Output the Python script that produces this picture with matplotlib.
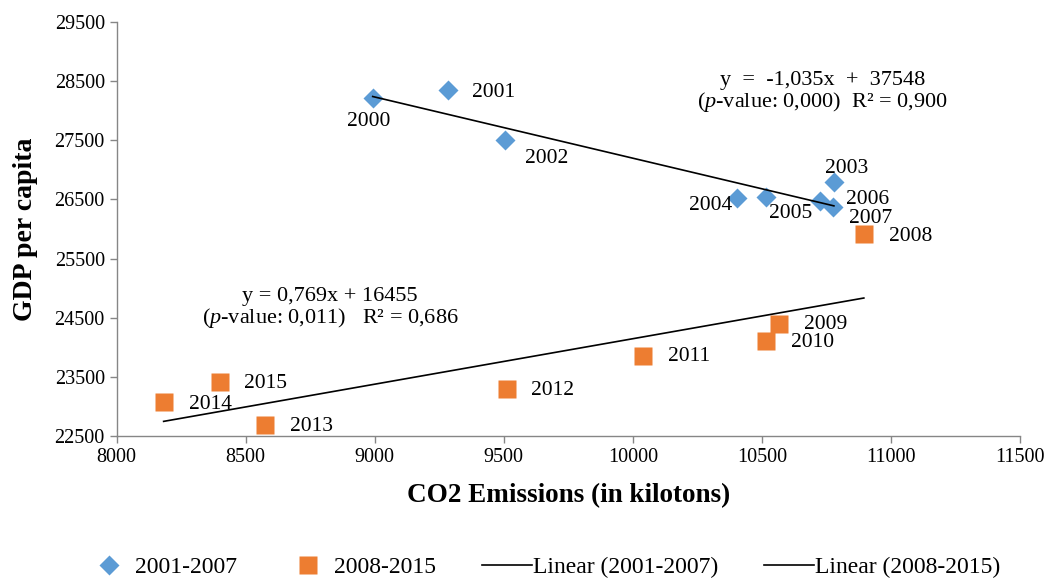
import matplotlib
matplotlib.use("Agg")
import matplotlib.pyplot as plt
from matplotlib.lines import Line2D

plt.rcParams['font.family'] = ['Liberation Serif', 'DejaVu Serif']
plt.rcParams['mathtext.fontset'] = 'custom'
plt.rcParams['mathtext.rm'] = 'Liberation Serif'
plt.rcParams['mathtext.it'] = 'Liberation Serif:italic'

# Period 1 (blue diamonds)
years_a = ['2000', '2001', '2002', '2003', '2004', '2005', '2006', '2007']
co2_a = [8992, 9283, 9504, 10779, 10403, 10515, 10725, 10775]
gdp_a = [28214, 28350, 27510, 26800, 26530, 26550, 26480, 26380]

# Period 2 (orange squares)
years_b = ['2008', '2009', '2010', '2011', '2012', '2013', '2014', '2015']
co2_b = [10895, 10566, 10515, 10039, 9512, 8574, 8182, 8399]
gdp_b = [25920, 24400, 24100, 23860, 23290, 22680, 23080, 23410]

# trend equations as printed on the chart
slope_a, icpt_a = -1.035, 37548
slope_b, icpt_b = 0.769, 16455

# label offsets in pixels (dx, dy)
off_a = [(-4, -23), (46, -2), (42, -19), (13, 13), (-26, -8), (25, -17), (48, 1), (38, -12)]
off_b = [(47, -3), (47, -1), (47, -1), (46, -1), (46, -1), (47, -1), (47, -3), (46, -1)]

blue = '#5B9BD5'
orange = '#ED7D31'

fig = plt.figure(figsize=(10.51, 5.81), dpi=100)
ax = fig.add_axes([0.111, 0.2496, 0.8595, 0.7124])

ax.plot(co2_a, gdp_a, 'D', color=blue, ms=10.5, mec='none', zorder=3)
ax.plot(co2_b, gdp_b, 's', color=orange, ms=13.5, mec='none', zorder=3)

xa = [min(co2_a), max(co2_a)]
ax.plot(xa, [slope_a * x + icpt_a for x in xa], color='black', lw=1.2, zorder=4)
xb = [min(co2_b), max(co2_b)]
ax.plot(xb, [slope_b * x + icpt_b for x in xb], color='black', lw=1.2, zorder=4)

for yr, x, y, o in zip(years_a, co2_a, gdp_a, off_a):
    ax.annotate(yr, (x, y), xytext=o, textcoords='offset pixels',
                ha='center', va='center', fontsize=15.5)
for yr, x, y, o in zip(years_b, co2_b, gdp_b, off_b):
    ax.annotate(yr, (x, y), xytext=o, textcoords='offset pixels',
                ha='center', va='center', fontsize=15.5)

ax.text(0.781, 0.831, "y  =  -1,035x  +  37548\n($\\mathit{p}$-value: 0,000)  R² = 0,900",
        transform=ax.transAxes, ha='center', va='center', fontsize=16,
        linespacing=1.0)
ax.text(0.236, 0.309, "y = 0,769x + 16455\n($\\mathit{p}$-value: 0,011)   R² = 0,686",
        transform=ax.transAxes, ha='center', va='center', fontsize=16,
        linespacing=1.0)

ax.set_xlim(8000, 11500)
ax.set_ylim(22500, 29500)
ax.set_xticks(range(8000, 11501, 500))
ax.set_yticks(range(22500, 29501, 1000))
ax.tick_params(labelsize=14.5, color='#868686', length=5, width=1, direction='out')
for s in ['top', 'right']:
    ax.spines[s].set_visible(False)
for s in ['left', 'bottom']:
    ax.spines[s].set_color('#868686')
    ax.spines[s].set_linewidth(1)

ax.set_xlabel('CO2 Emissions (in kilotons)', fontsize=19.5, fontweight='bold', labelpad=12)
ax.set_ylabel('GDP per capita', fontsize=20, fontweight='bold', labelpad=12)

handles = [
    Line2D([], [], ls='none', marker='D', color=blue, ms=10, mec='none'),
    Line2D([], [], ls='none', marker='s', color=orange, ms=13, mec='none'),
    Line2D([], [], color='black', lw=1.2),
    Line2D([], [], color='black', lw=1.2),
]
labels = ['2001-2007', '2008-2015', 'Linear (2001-2007)', 'Linear (2008-2015)']
fig.legend(handles, labels, loc='center', bbox_to_anchor=(0.516, 0.023), ncol=4,
           frameon=False, fontsize=17, handlelength=2.1, handletextpad=0.05,
           columnspacing=1.95)

fig.savefig('out.png', dpi=100)
